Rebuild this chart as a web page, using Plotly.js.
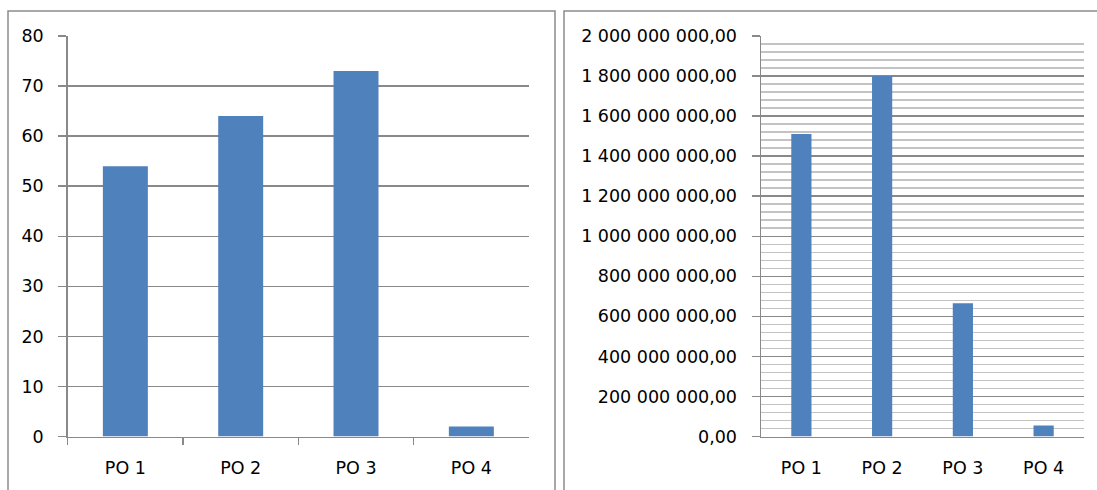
<!DOCTYPE html>
<html>
<head>
<meta charset="utf-8">
<script src="https://cdn.plot.ly/plotly-3.0.1.min.js"></script>
<style>
  html, body { margin: 0; padding: 0; background: #fff; }
  #chart { width: 1097px; height: 490px; }
</style>
</head>
<body>
<div id="chart"></div>
<script>
// ---- data ----
const categories = ["PO 1", "PO 2", "PO 3", "PO 4"];
const leftValues = [54, 64, 73, 2];
const rightValues = [1510000000, 1800000000, 665000000, 55000000];

const leftTickVals = [0, 10, 20, 30, 40, 50, 60, 70, 80];
const leftTickText = ["0", "10", "20", "30", "40", "50", "60", "70", "80"];
const rightTickVals = [0, 200000000, 400000000, 600000000, 800000000, 1000000000,
  1200000000, 1400000000, 1600000000, 1800000000, 2000000000];
const rightTickText = ["0,00", "200 000 000,00", "400 000 000,00", "600 000 000,00",
  "800 000 000,00", "1 000 000 000,00", "1 200 000 000,00", "1 400 000 000,00",
  "1 600 000 000,00", "1 800 000 000,00", "2 000 000 000,00"];

// ---- styles ----
const W = 1097, H = 490;
const px = v => v / W;
const py = v => 1 - v / H;
const barColor = "#4f81bd";
const gridColor = "#898989";
const minorColor = "#c3c3c3";
const fontSpec = { family: "DejaVu Sans", size: 17.5, color: "#000" };

const traces = [
  { type: "bar", x: categories, y: leftValues, xaxis: "x", yaxis: "y",
    marker: { color: barColor }, width: 0.39, hoverinfo: "skip" },
  { type: "bar", x: categories, y: rightValues, xaxis: "x2", yaxis: "y2",
    marker: { color: barColor }, width: 0.25, hoverinfo: "skip" }
];

const yDomain = [py(436.5), py(36)];

const layout = {
  width: W, height: H,
  margin: { l: 0, r: 0, t: 0, b: 0 },
  paper_bgcolor: "#fff", plot_bgcolor: "#fff",
  showlegend: false,
  font: fontSpec,
  xaxis: {
    domain: [px(67.7), px(529)], anchor: "y",
    type: "category", range: [-0.5, 3.5],
    showline: true, linecolor: gridColor, linewidth: 1.5,
    ticks: "outside", tickson: "boundaries", ticklen: 7, tickcolor: gridColor, tickwidth: 1.5,
    showgrid: false, tickfont: fontSpec, ticklabelstandoff: 15
  },
  yaxis: {
    domain: yDomain, anchor: "x",
    range: [0, 80], tickmode: "array", tickvals: leftTickVals, ticktext: leftTickText,
    showline: true, linecolor: gridColor, linewidth: 1.5,
    ticks: "outside", ticklen: 8, tickcolor: gridColor, tickwidth: 1.5,
    showgrid: true, gridcolor: gridColor, gridwidth: 1.5, zeroline: false,
    tickfont: fontSpec, ticklabelstandoff: 11
  },
  xaxis2: {
    domain: [px(761), px(1084)], anchor: "y2",
    type: "category", range: [-0.5, 3.5],
    showline: true, linecolor: gridColor, linewidth: 1.5,
    ticks: "", showgrid: false, tickfont: fontSpec, ticklabelstandoff: 15
  },
  yaxis2: {
    domain: yDomain, anchor: "x2",
    range: [0, 2000000000], tickmode: "array", tickvals: rightTickVals, ticktext: rightTickText,
    showline: true, linecolor: gridColor, linewidth: 1.5,
    ticks: "outside", ticklen: 8, tickcolor: gridColor, tickwidth: 1.5,
    showgrid: true, gridcolor: gridColor, gridwidth: 1.5, zeroline: false,
    minor: { tickmode: "linear", tick0: 0, dtick: 40000000, showgrid: true,
             gridcolor: minorColor, gridwidth: 1.5, ticks: "" },
    tickfont: fontSpec, ticklabelstandoff: 11
  },
  shapes: [
    { type: "rect", xref: "paper", yref: "paper",
      x0: px(8), x1: px(555), y0: py(520), y1: py(11),
      line: { color: "#8c8c8c", width: 1.5 }, fillcolor: "rgba(0,0,0,0)" },
    { type: "rect", xref: "paper", yref: "paper",
      x0: px(564), x1: px(1120), y0: py(520), y1: py(11),
      line: { color: "#8c8c8c", width: 1.5 }, fillcolor: "rgba(0,0,0,0)" }
  ]
};

Plotly.newPlot("chart", traces, layout, { displayModeBar: false, staticPlot: true });
</script>
</body>
</html>
